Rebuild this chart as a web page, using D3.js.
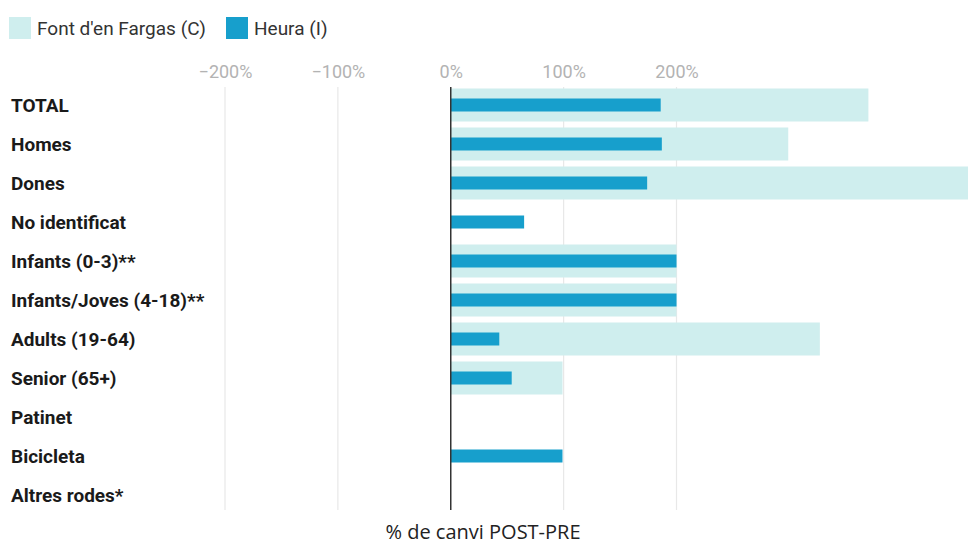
<!DOCTYPE html>
<html><head><meta charset="utf-8">
<script src="https://cdn.jsdelivr.net/npm/d3@7"></script>
<style>body{margin:0;background:#fff;} svg{display:block;}</style>
</head><body>
<svg id="chart" width="968" height="545"></svg>
<script>
const categories = ["TOTAL","Homes","Dones","No identificat","Infants (0-3)**","Infants/Joves (4-18)**","Adults (19-64)","Senior (65+)","Patinet","Bicicleta","Altres rodes*"];
const fargasValues = [370, 299, 480, null, 200, 200, 327, 99, null, null, null];
const heuraValues  = [186, 187, 174, 65, 200, 200, 43, 54, null, 99, null];
const tickValues = [-200, -100, 0, 100, 200];
const seriesNames = ["Font d'en Fargas (C)", "Heura (I)"];
const colors = ["#cfeeee", "#179fcc"];

const svg = d3.select("#chart");
const W = 968, H = 545;
const x = d3.scaleLinear().domain([-200, 200]).range([225, 676.5]);
const y = d3.scaleBand().domain(categories).range([85.5, 514.5]).padding(0);

svg.append("defs").append("clipPath").attr("id","clip")
  .append("rect").attr("x",0).attr("y",0).attr("width",W).attr("height",H);

// gridlines
svg.append("g").selectAll("line").data(tickValues.filter(d => d !== 0)).join("line")
  .attr("x1", d => x(d)).attr("x2", d => x(d))
  .attr("y1", 87).attr("y2", 510)
  .attr("stroke", "#e8e8e8").attr("stroke-width", 1.2);

// top axis labels
const axis = d3.axisTop(x).tickValues(tickValues).tickSize(0).tickPadding(3)
  .tickFormat(d => (d < 0 ? "\u2212" + Math.abs(d) : d) + "%");
const ax = svg.append("g").attr("transform", "translate(0,81)").call(axis);
ax.select(".domain").remove();
ax.selectAll("text").attr("fill", "#b3b3b3").style("font-family", "Roboto, sans-serif").style("font-size", "18px");

// bars
const bars = svg.append("g").attr("clip-path", "url(#clip)");
const lightH = 33, darkH = 13;
bars.selectAll("rect.f").data(categories.map((c,i) => ({c, v: fargasValues[i]})).filter(d => d.v != null)).join("rect")
  .attr("class","f")
  .attr("x", d => x(Math.min(0, d.v))).attr("width", d => Math.abs(x(d.v) - x(0)))
  .attr("y", d => y(d.c) + y.bandwidth()/2 - lightH/2).attr("height", lightH)
  .attr("fill", colors[0]);
bars.selectAll("rect.h").data(categories.map((c,i) => ({c, v: heuraValues[i]})).filter(d => d.v != null)).join("rect")
  .attr("class","h")
  .attr("x", d => x(Math.min(0, d.v))).attr("width", d => Math.abs(x(d.v) - x(0)))
  .attr("y", d => y(d.c) + y.bandwidth()/2 - darkH/2).attr("height", darkH)
  .attr("fill", colors[1]);

// zero line
svg.append("line").attr("x1", x(0)).attr("x2", x(0)).attr("y1", 87).attr("y2", 510)
  .attr("stroke", "#333").attr("stroke-width", 1.5);

// category labels
svg.append("g").selectAll("text").data(categories).join("text")
  .attr("x", 11).attr("y", d => y(d) + y.bandwidth()/2)
  .attr("dy", "0.35em")
  .attr("fill", "#1a1a1a").style("font-family", "Roboto, sans-serif").style("font-weight", "bold").style("font-size", "19px")
  .text(d => d);

// legend
const lg = svg.append("g");
const lx = [9, 226];
seriesNames.forEach((n, i) => {
  lg.append("rect").attr("x", lx[i]).attr("y", 17).attr("width", 22).attr("height", 22).attr("fill", colors[i]);
  lg.append("text").attr("x", lx[i] + 28).attr("y", 28).attr("dy", "0.35em")
    .attr("fill", "#333").style("font-family", "Roboto, sans-serif").style("font-size", "19px").text(n);
});

// x title
svg.append("text").attr("x", 483).attr("y", 539).attr("text-anchor", "middle")
  .attr("fill", "#222").style("font-family", "'Open Sans', sans-serif").style("font-size", "20px")
  .text("% de canvi POST-PRE");
</script>
</body></html>
